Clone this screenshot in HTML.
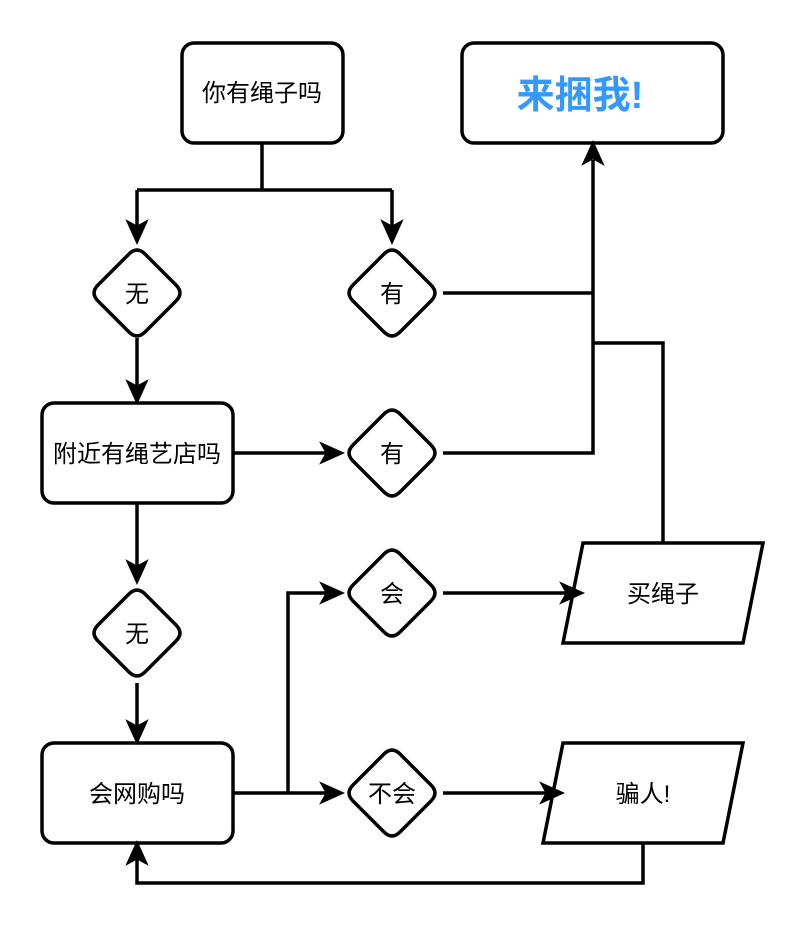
<!DOCTYPE html>
<html><head><meta charset="utf-8"><style>
html,body{margin:0;padding:0;background:#fff;}
svg{display:block;}
text{font-family:"Liberation Sans","Noto Sans CJK SC",sans-serif;font-size:24px;fill:#000;}
</style></head><body>
<svg width="804" height="940" viewBox="0 0 804 940" xmlns="http://www.w3.org/2000/svg">
<defs>
<g id="ad"><path d="M0,0 L-9,-20 L0,-15 L9,-20 Z" fill="#000" stroke="#000" stroke-width="2.5" stroke-linejoin="miter"/></g>
<g id="dm"><path d="M-8,-39 Q0,-47 8,-39 L39,-8 Q47,0 39,8 L8,39 Q0,47 -8,39 L-39,8 Q-47,0 -39,-8 Z" fill="#fff" stroke="#000" stroke-width="3.5"/></g>
</defs>
<g fill="none" stroke="#000" stroke-width="3.5">
<rect x="182" y="43" width="161" height="100" rx="12" fill="#fff"/>
<rect x="462" y="43" width="261" height="100" rx="12" fill="#fff"/>
<rect x="42" y="403" width="191" height="100" rx="12" fill="#fff"/>
<rect x="42" y="743" width="191" height="100" rx="12" fill="#fff"/>
<path d="M583,543 L763,543 L743,643 L563,643 Z" fill="#fff"/>
<path d="M563,743 L743,743 L723,843 L543,843 Z" fill="#fff"/>
<path d="M262,143 V190 M137,190 H392 M137,190 V228 M392,190 V228"/>
<path d="M137,338 V388"/>
<path d="M233,453 H328"/>
<path d="M443,293 H593 M443,453 H593 V160"/>
<path d="M593,343 H663 V543"/>
<path d="M137,503 V568"/>
<path d="M137,683 V728"/>
<path d="M233,793 H328 M288,793 V593 H328"/>
<path d="M443,593 H568"/>
<path d="M443,793 H548"/>
<path d="M643,843 V883 H137 V858"/>
</g>
<use href="#ad" transform="translate(137,242)"/>
<use href="#ad" transform="translate(392,242)"/>
<use href="#ad" transform="translate(137,402)"/>
<use href="#ad" transform="translate(137,582)"/>
<use href="#ad" transform="translate(137,742)"/>
<use href="#ad" transform="translate(593,143) rotate(180)"/>
<use href="#ad" transform="translate(137,843) rotate(180)"/>
<use href="#ad" transform="translate(342,453) rotate(-90)"/>
<use href="#ad" transform="translate(342,593) rotate(-90)"/>
<use href="#ad" transform="translate(342,793) rotate(-90)"/>
<use href="#ad" transform="translate(582,593) rotate(-90)"/>
<use href="#ad" transform="translate(562,793) rotate(-90)"/>
<use href="#dm" transform="translate(137,293)"/>
<use href="#dm" transform="translate(392,293)"/>
<use href="#dm" transform="translate(392,453)"/>
<use href="#dm" transform="translate(137,633)"/>
<use href="#dm" transform="translate(392,593)"/>
<use href="#dm" transform="translate(392,793)"/>
<g text-anchor="middle">
<text x="262" y="101">你有绳子吗</text>
<text x="580" y="108" style="font-size:38px;font-weight:bold;fill:#3399ff">来捆我!</text>
<text x="137" y="462">附近有绳艺店吗</text>
<text x="137" y="802">会网购吗</text>
<text x="137" y="302">无</text>
<text x="392" y="302">有</text>
<text x="392" y="462">有</text>
<text x="137" y="642">无</text>
<text x="392" y="602">会</text>
<text x="392" y="802">不会</text>
<text x="663" y="602">买绳子</text>
<text x="643" y="802">骗人!</text>
</g>
</svg>
</body></html>
